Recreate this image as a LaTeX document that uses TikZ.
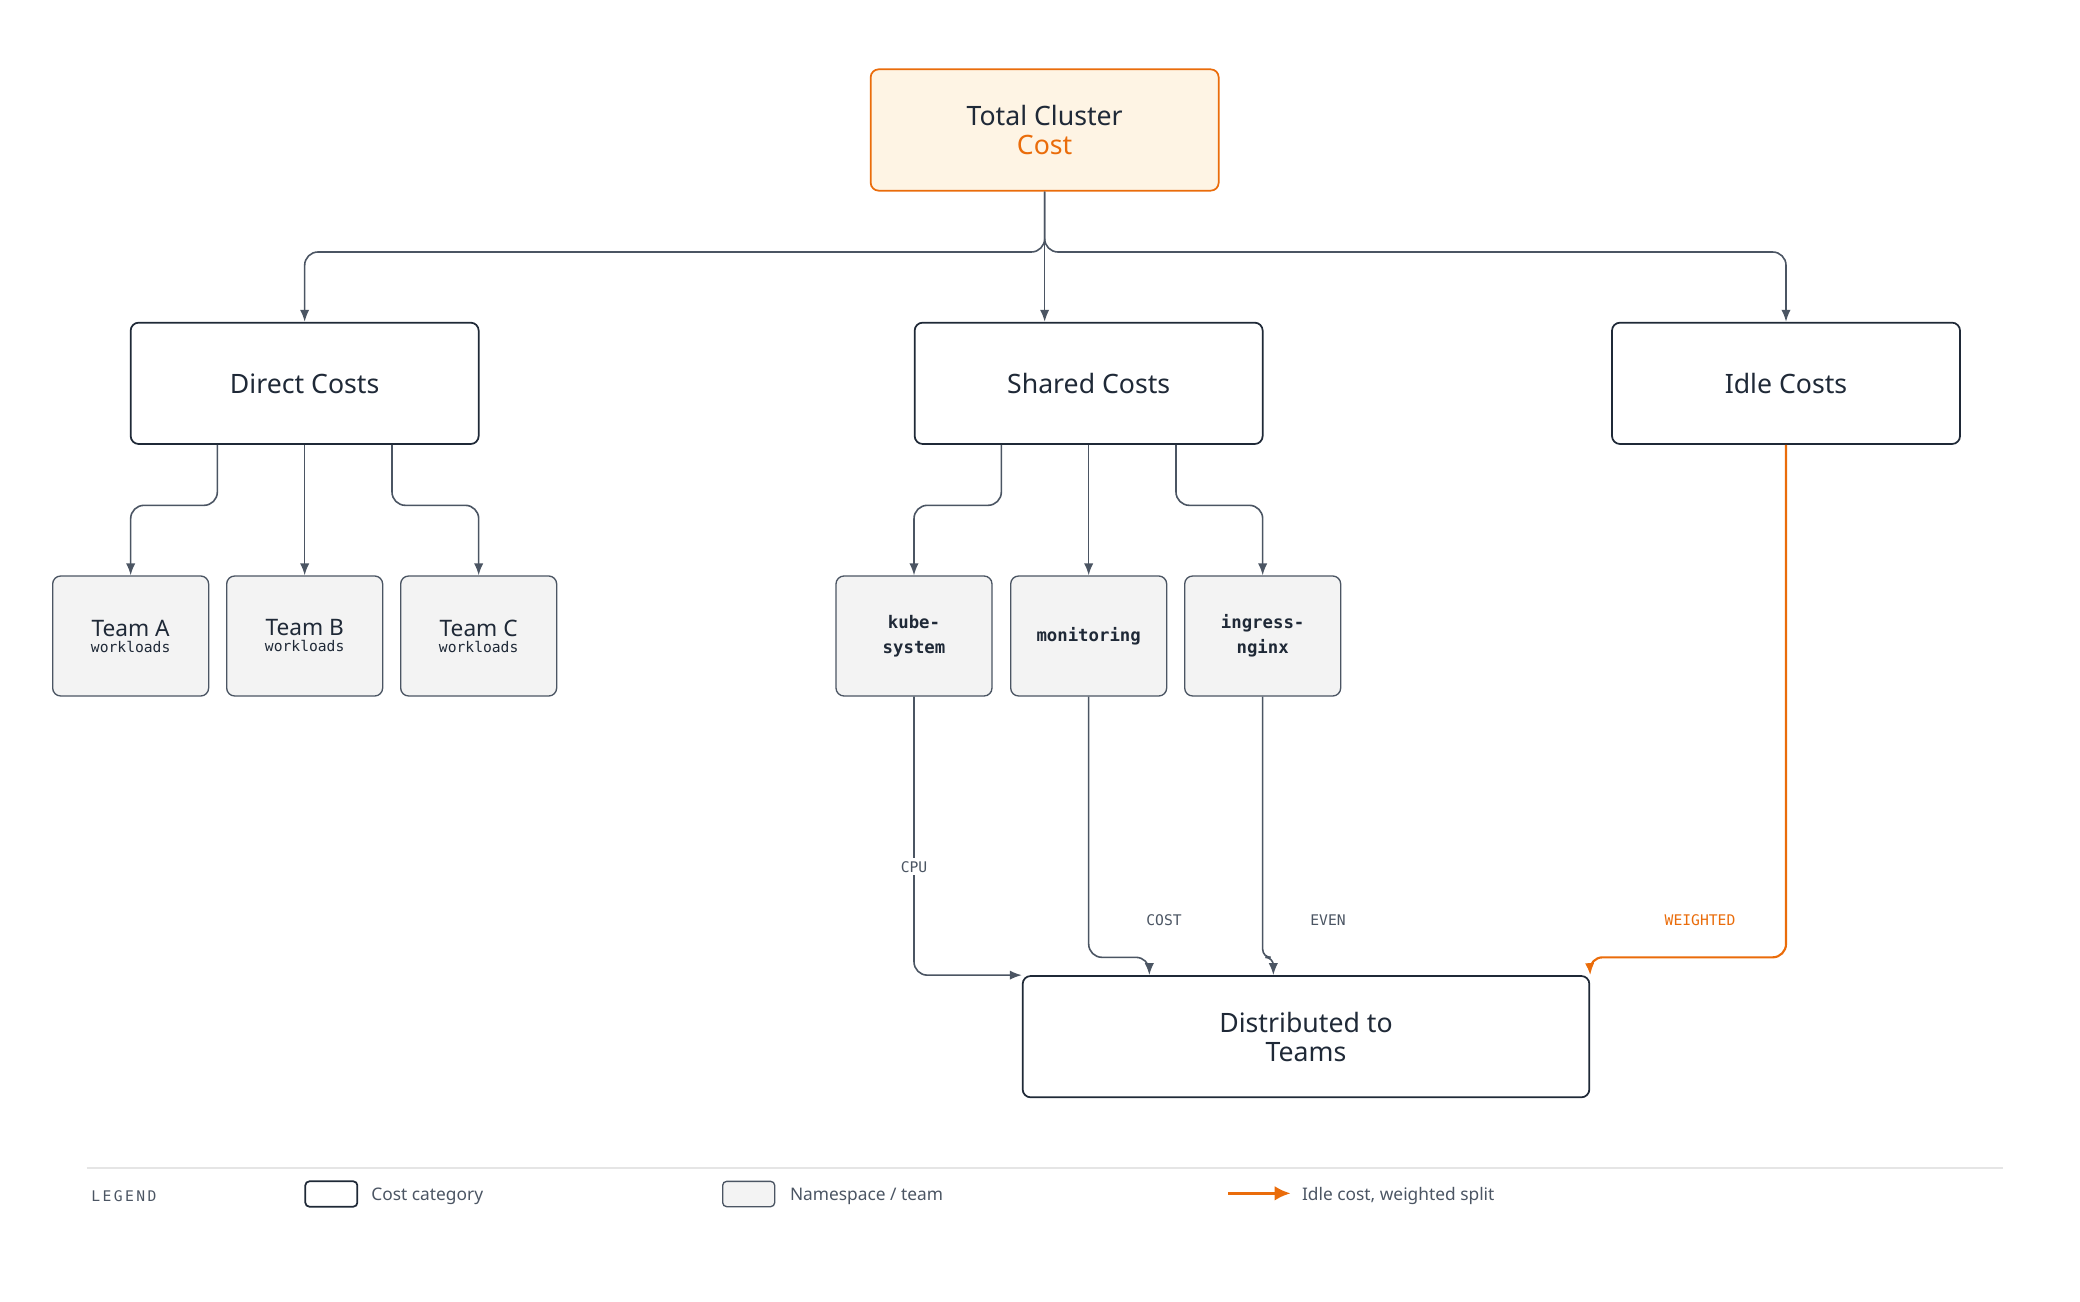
\documentclass[tikz,border=0pt]{standalone}
\usepackage{fontspec}
\setmainfont{Noto Sans}
\newfontfamily\mono{DejaVu Sans Mono}
\usetikzlibrary{arrows.meta}
\definecolor{ink}{HTML}{1F2937}
\definecolor{ln}{HTML}{4B5563}
\definecolor{org}{HTML}{EA6C0A}
\definecolor{ofill}{HTML}{FEF4E4}
\definecolor{gfill}{HTML}{F3F3F3}
\begin{document}
\begin{tikzpicture}[x=1pt,y=-1pt,
 cat/.style={draw=ink,line width=1.3pt,rounded corners=6pt,minimum width=261pt,minimum height=91pt,font=\fontsize{20}{24}\selectfont\bfseries,text=ink,align=center},
 ns/.style={draw=ln,fill=gfill,line width=1pt,rounded corners=6pt,minimum width=117pt,minimum height=90pt,text=ink,align=center},
 conn/.style={draw=ln,line width=1.2pt,rounded corners=10pt,-{Latex[length=9pt,width=7pt]}},
 lab/.style={font=\mono\fontsize{11}{13}\selectfont,text=ln,fill=white,inner sep=2pt}]
\useasboundingbox (0,0) rectangle (1560,976);
\node[cat,draw=org,fill=ofill] (total) at (783.5,97.5) {Total Cluster\\[-2pt]\textcolor{org}{Cost}};
\node[cat] (direct) at (228.5,287.5) {Direct Costs};
\node[cat] (shared) at (816.5,287.5) {Shared Costs};
\node[cat] (idle) at (1339.5,287.5) {Idle Costs};
\node[cat,minimum width=425pt] (dist) at (979.5,777.5) {Distributed to\\[-2pt]Teams};
\foreach \n/\x/\t in {ta/98/A,tb/228.5/B,tc/359/C}
  \node[ns] (\n) at (\x,477) {\fontsize{17}{20}\selectfont\bfseries Team \t\\[0pt]{\mono\fontsize{11}{13}\selectfont workloads}};
\node[ns,font=\mono\bfseries\fontsize{13}{19}\selectfont] (kube) at (685.5,477) {kube-\\system};
\node[ns,font=\mono\bfseries\fontsize{13}{19}\selectfont] (mon) at (816.5,477) {monitoring};
\node[ns,font=\mono\bfseries\fontsize{13}{19}\selectfont] (ing) at (947,477) {ingress-\\nginx};
% top branch
\coordinate (tb0) at (783.5,189);
\draw[conn] (total.south) -- (tb0) -| (direct.north);
\draw[conn] (total.south) -- (shared.north-|total.south);
\draw[conn] (total.south) -- (tb0) -| (idle.north);
% direct
\draw[conn] (direct.south-|163,0) |- (130,379) -| (ta.north);
\draw[conn] (direct.south) -- (tb.north);
\draw[conn] (direct.south-|294,0) |- (330,379) -| (tc.north);
% shared
\draw[conn] (shared.south-|751,0) |- (720,379) -| (kube.north);
\draw[conn] (shared.south) -- (mon.north);
\draw[conn] (shared.south-|882,0) |- (920,379) -| (ing.north);
% distribution
\draw[conn] (kube.south) |- (dist.north west);
\node[lab] (lcpu) at (685.5,650) {CPU};
\draw[conn] (mon.south) |- (862,718) -- (dist.north-|862,0);
\draw[conn,rounded corners=6pt] (ing.south) |- (955,718) -- (dist.north-|955,0);
\draw[conn,draw=org,line width=1.6pt,-{Latex[length=9pt,width=7pt]}] (idle.south) |- (1192,718) -- (dist.north east);
\node[lab] (lcost) at (873,690) {COST};
\node[lab] (leven) at (996,690) {EVEN};
\node[lab,text=org] (lw) at (1275,690) {WEIGHTED};
% legend
\draw[draw=gray!20,line width=1pt] (65,876) coordinate (l0) -- (1502,876) coordinate (l1);
\node[anchor=west,font=\mono\fontsize{11}{13}\selectfont,text=ln] (lg) at (65,897) {L\,E\,G\,E\,N\,D};
\node[draw=ink,line width=1.3pt,rounded corners=3pt,minimum width=39pt,minimum height=19pt,inner sep=0pt] (k1) at (248.5,895.5) {};
\node[anchor=west,font=\fontsize{13}{15}\selectfont,text=ln] (k1t) at (275,897) {Cost category};
\node[draw=ln,fill=gfill,line width=1pt,rounded corners=3pt,minimum width=39pt,minimum height=19pt,inner sep=0pt] (k2) at (561.5,895.5) {};
\node[anchor=west,font=\fontsize{13}{15}\selectfont,text=ln] (k2t) at (589,897) {Namespace / team};
\coordinate (k3a) at (921,895); \coordinate (k3b) at (968,895);
\draw[org,line width=2.2pt,-{Latex[length=12pt,width=11pt]}] (k3a) -- (k3b);
\node[anchor=west,font=\fontsize{13}{15}\selectfont,text=ln] (k3t) at (973,897) {Idle cost, weighted split};
\end{tikzpicture}
\end{document}
